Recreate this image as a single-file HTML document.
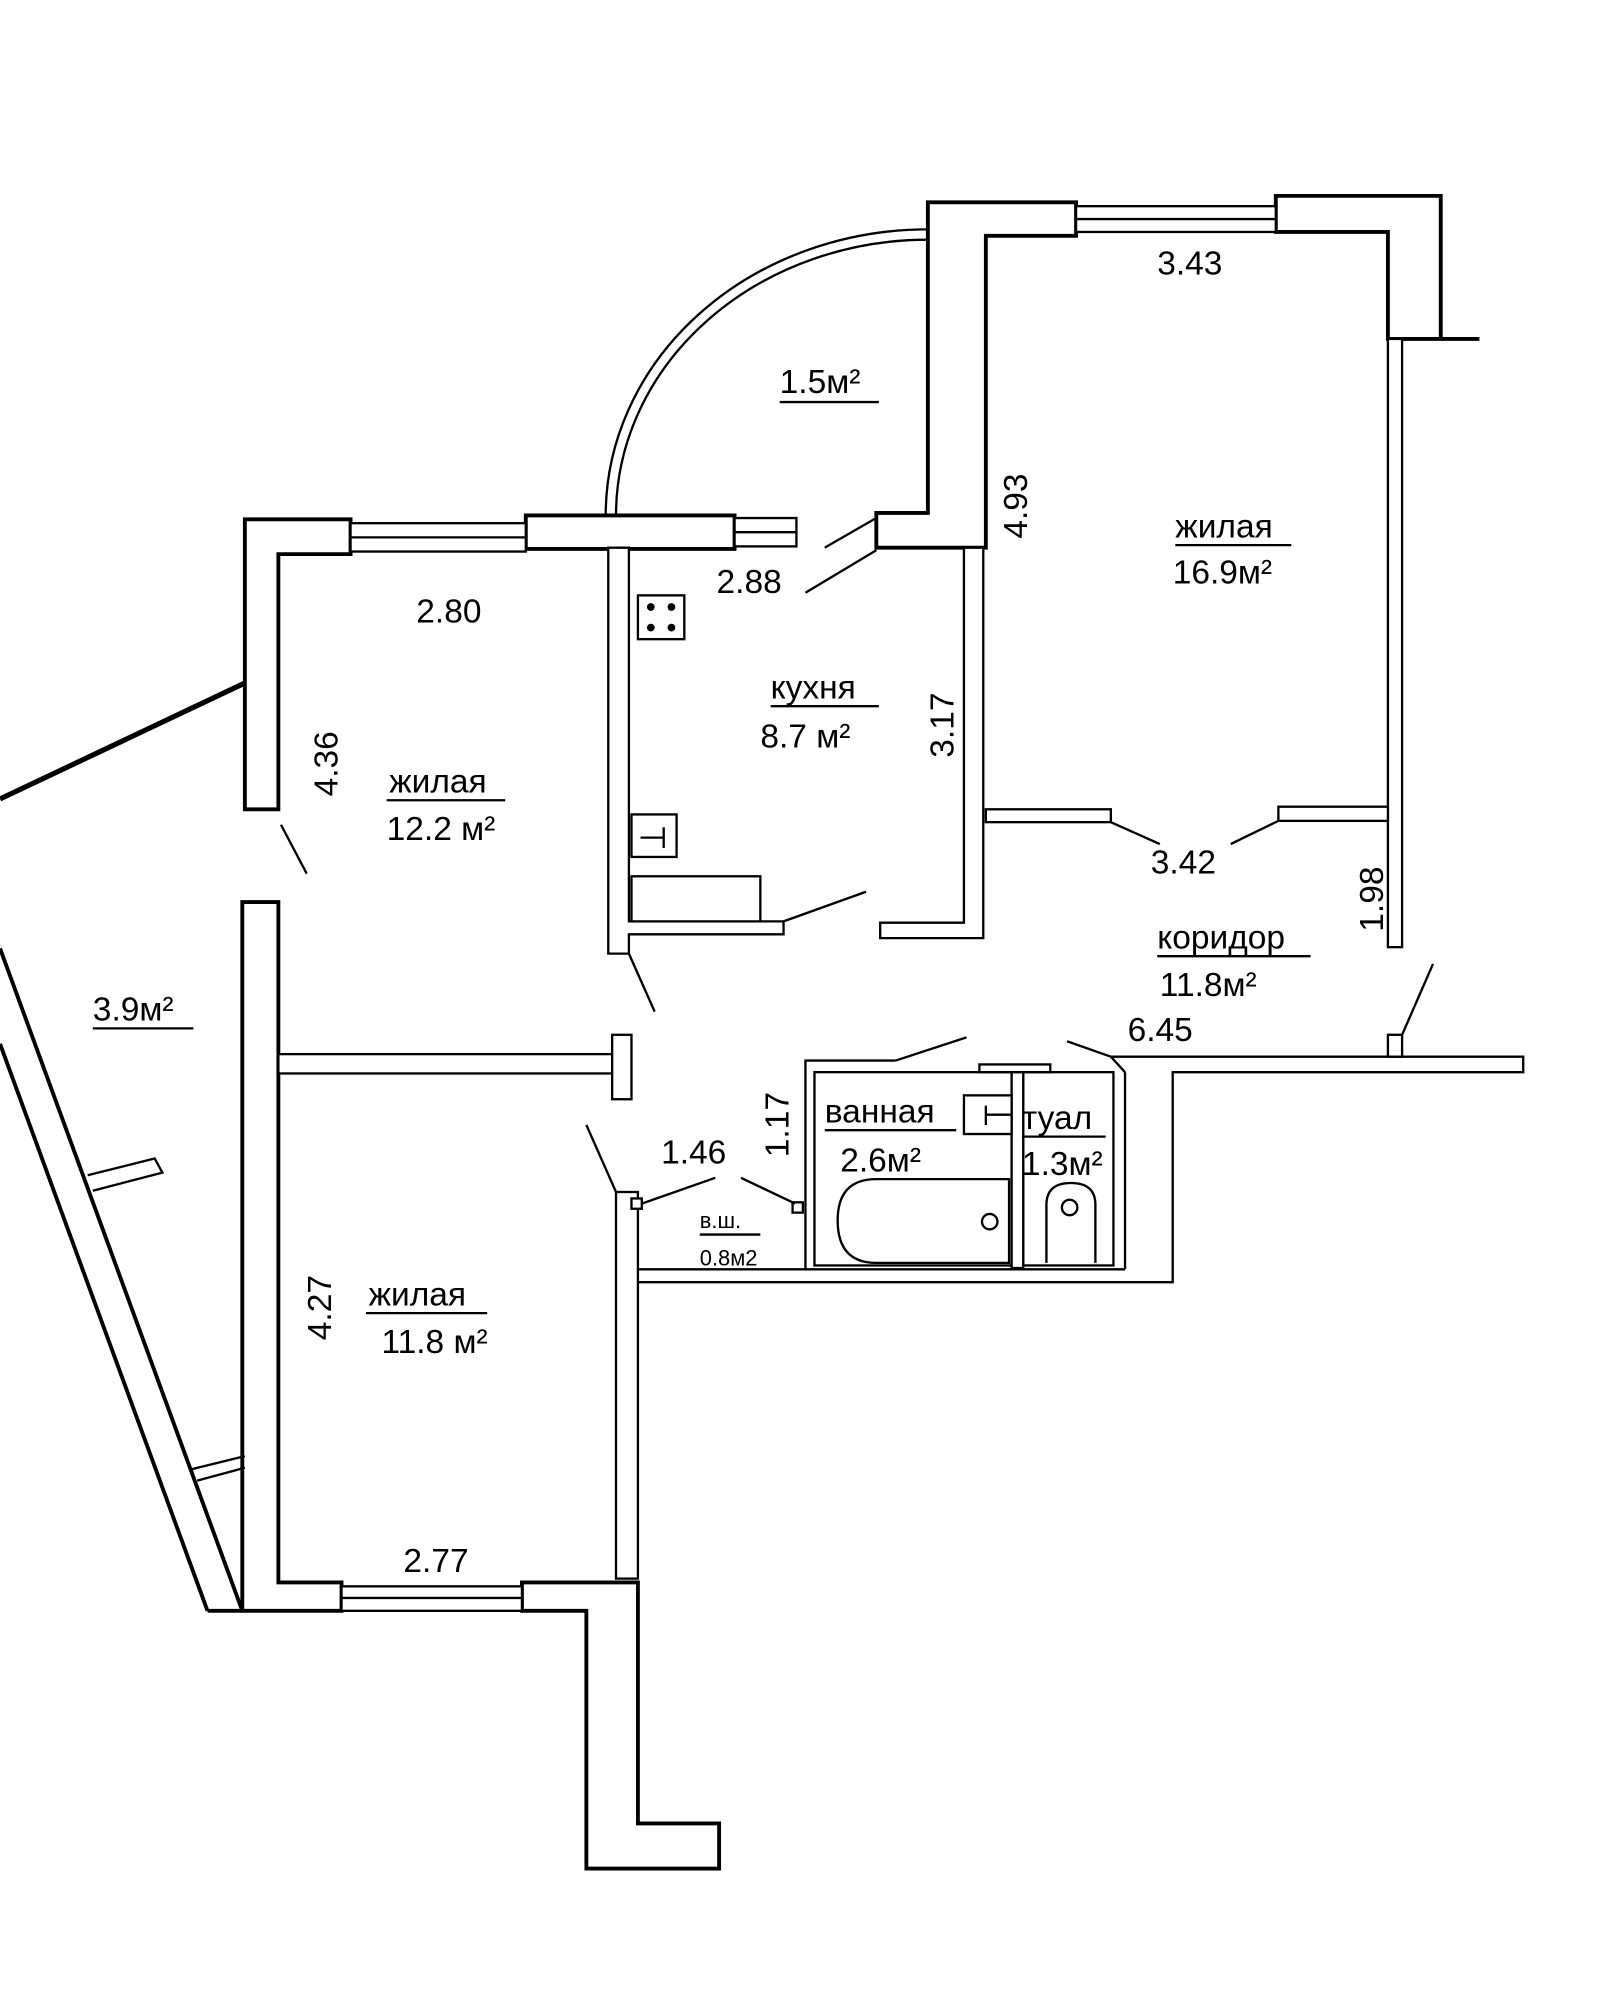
<!DOCTYPE html>
<html><head><meta charset="utf-8"><style>
html,body{margin:0;padding:0;background:#fff;}
svg{display:block}
text{font-family:"Liberation Sans",sans-serif;fill:#000;font-size:26px}
</style></head><body>
<svg width="1598" height="2000" viewBox="0 0 1240 1552" xmlns="http://www.w3.org/2000/svg">
<g fill="#fff" stroke="#000" stroke-width="3" stroke-linejoin="miter">
<polygon points="720,157 835,157 835,183 765,183 765,425 680,425 680,398 720,398"/>
<polygon points="990,152 1118,152 1118,263 1077,263 1077,180 990,180"/>
<polygon points="190,403 272,403 272,430 216,430 216,628 190,628"/>
<polygon points="408,400 570,400 570,426 408,426"/>
<polygon points="188,700 216,700 216,1228 265,1228 265,1250 188,1250"/>
<polygon points="405,1228 495,1228 495,1415 558,1415 558,1450 455,1450 455,1250 405,1250"/>
</g>
<g fill="#fff" stroke="#000" stroke-width="1.8">
<rect x="835" y="160" width="155" height="20"/><line x1="835" y1="170" x2="990" y2="170"/>
<rect x="272" y="406" width="136" height="22"/><line x1="272" y1="417" x2="408" y2="417"/>
<rect x="570" y="402" width="48" height="22"/><line x1="570" y1="413" x2="618" y2="413"/>
<rect x="265" y="1231" width="140" height="19"/><line x1="265" y1="1240" x2="405" y2="1240"/>
<rect x="1077" y="263" width="11" height="472"/>
<rect x="765" y="628" width="97" height="10"/>
<rect x="992" y="626" width="85" height="11"/>
<polygon points="748,425 763,425 763,728 683,728 683,716 748,716"/>
<polygon points="472,425 488,425 488,715 608,715 608,725 488,725 488,740 472,740"/>
<rect x="490" y="680" width="100" height="35"/>
<rect x="490" y="632" width="35" height="33"/>
<line x1="497" y1="650" x2="515" y2="650"/><line x1="515" y1="642" x2="515" y2="658"/>
<rect x="495" y="462" width="36" height="34"/>
<rect x="216" y="818" width="259" height="15"/>
<rect x="475" y="803" width="15" height="50"/>
<rect x="478" y="925" width="17" height="300"/>
<rect x="490" y="930" width="8" height="8"/><rect x="615" y="933" width="8" height="8"/>
<polyline fill="none" points="495,985 625,985 625,823 695,823"/>
<polyline fill="none" points="495,995 910,995 910,832 1182,832 1182,820 873,820 862,820"/>
<rect x="632" y="832" width="153" height="150"/>
<rect x="794" y="832" width="70" height="150"/>
<line x1="862" y1="820" x2="873" y2="832"/>
<line x1="873" y1="832" x2="873" y2="985"/>
<line x1="625" y1="985" x2="873" y2="985"/>
<rect x="785" y="832" width="9" height="152"/>
<rect x="760" y="826" width="55" height="6"/>
<rect x="748" y="850" width="37" height="30"/>
<line x1="765" y1="858" x2="765" y2="873"/><line x1="765" y1="865" x2="785" y2="865"/>
<path d="M680,915 L783,915 L783,980 L680,980 Q650,980 650,947 Q650,915 680,915 Z"/>
<circle cx="768" cy="948" r="6"/>
<path d="M812,980 L812,935 Q812,918 831,918 Q850,918 850,935 L850,980"/>
<circle cx="830" cy="937" r="6"/>
<rect x="1077" y="803" width="11" height="17"/>
</g>
<g fill="#000" stroke="none">
<circle cx="505" cy="471" r="3"/><circle cx="521" cy="471" r="3"/><circle cx="505" cy="487" r="3"/><circle cx="521" cy="487" r="3"/>
</g>
<g fill="none" stroke="#000" stroke-width="1.8">
<path d="M470,400 A250,222 0 0 1 720,178"/>
<path d="M478,400 A242,214 0 0 1 720,186"/>
<line x1="1118" y1="263" x2="1148" y2="263" stroke-width="3"/>
<line x1="640" y1="425" x2="680" y2="402"/>
<line x1="625" y1="460" x2="680" y2="427"/>
<line x1="862" y1="638" x2="900" y2="655"/>
<line x1="992" y1="637" x2="955" y2="655"/>
<line x1="608" y1="715" x2="672" y2="692"/>
<line x1="218" y1="640" x2="238" y2="678"/>
<line x1="488" y1="740" x2="508" y2="785"/>
<line x1="455" y1="873" x2="478" y2="925"/>
<line x1="498" y1="934" x2="555" y2="914"/>
<line x1="575" y1="914" x2="617" y2="934"/>
<line x1="695" y1="823" x2="750" y2="805"/>
<line x1="828" y1="808" x2="862" y2="820"/>
<line x1="1088" y1="803" x2="1112" y2="748"/>
<line x1="0" y1="620" x2="190" y2="530" stroke-width="4"/>
<line x1="0" y1="736" x2="188" y2="1250" stroke-width="3"/>
<line x1="0" y1="810" x2="161" y2="1250" stroke-width="3"/>
<line x1="161" y1="1250" x2="188" y2="1250" stroke-width="3"/>
<polyline points="68,912 120,899 126,910 72,924"/>
<line x1="190" y1="1130" x2="149" y2="1140"/>
<line x1="190" y1="1139" x2="153" y2="1149"/>
<line x1="605" y1="312" x2="682" y2="312"/>
<line x1="912" y1="423" x2="1002" y2="423"/>
<line x1="598" y1="548" x2="682" y2="548"/>
<line x1="300" y1="621" x2="392" y2="621"/>
<line x1="898" y1="742" x2="1017" y2="742"/>
<line x1="72" y1="798" x2="150" y2="798"/>
<line x1="640" y1="877" x2="742" y2="877"/>
<line x1="793" y1="882" x2="858" y2="882"/>
<line x1="543" y1="958" x2="590" y2="958"/>
<line x1="284" y1="1019" x2="378" y2="1019"/>
</g>
<text x="605" y="305">1.5м²</text>
<text x="898" y="213">3.43</text>
<text transform="translate(797,418) rotate(-90)">4.93</text>
<text x="912" y="417">жилая</text>
<text x="910" y="453">16.9м²</text>
<text x="556" y="460">2.88</text>
<text x="323" y="483">2.80</text>
<text x="598" y="542">кухня</text>
<text x="590" y="580">8.7 м²</text>
<text transform="translate(740,588) rotate(-90)">3.17</text>
<text transform="translate(262,618) rotate(-90)">4.36</text>
<text x="302" y="615">жилая</text>
<text x="300" y="652">12.2 м²</text>
<text x="893" y="678">3.42</text>
<text transform="translate(1073,723) rotate(-90)">1.98</text>
<text x="898" y="736">коридор</text>
<text x="900" y="773">11.8м²</text>
<text x="875" y="808">6.45</text>
<text x="72" y="792">3.9м²</text>
<text transform="translate(612,898) rotate(-90)">1.17</text>
<text x="640" y="871">ванная</text>
<text x="652" y="909">2.6м²</text>
<text x="793" y="876">туал</text>
<text x="793" y="912">1.3м²</text>
<text x="513" y="903">1.46</text>
<text x="543" y="953" style="font-size:17px">в.ш.</text>
<text x="543" y="982" style="font-size:17px">0.8м2</text>
<text transform="translate(257,1040) rotate(-90)">4.27</text>
<text x="286" y="1013">жилая</text>
<text x="296" y="1050">11.8 м²</text>
<text x="313" y="1220">2.77</text>
</svg>
</body></html>
